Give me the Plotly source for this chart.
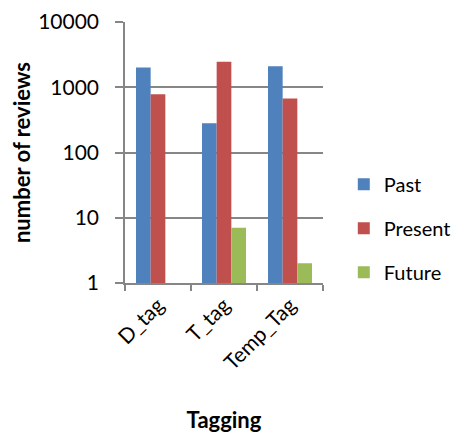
import plotly.graph_objects as go

categories = ["D_tag", "T_tag", "Temp_Tag"]
past = [2000, 280, 2100]
present = [780, 2450, 670]
future = [None, 7, 2]
series_names = ["Past", "Present", "Future"]
colors = ["#4F81BD", "#C0504D", "#9BBB59"]
y_ticks = [1, 10, 100, 1000, 10000]

FONT = "Lato, Open Sans, sans-serif"

fig = go.Figure()
for name, vals, col in zip(series_names, [past, present, future], colors):
    fig.add_trace(go.Bar(
        x=categories, y=vals, name=name, legendgroup=name,
        marker=dict(color=col, line=dict(width=0)),
    ))

fig.update_layout(
    width=445, height=425,
    margin=dict(l=117, r=130, t=14, b=150, autoexpand=False),
    paper_bgcolor="white", plot_bgcolor="white",
    barmode="group", bargap=0.333, bargroupgap=0,
    font=dict(family=FONT, size=21, color="black"),
    legend=dict(x=1.105, y=0.21, xanchor="left", yanchor="middle",
                tracegroupgap=15, font=dict(size=20, family=FONT),
                itemwidth=30, borderwidth=0),
    showlegend=True,
)
fig.update_yaxes(
    type="log", range=[0, 4], tickvals=y_ticks, ticktext=[str(v) for v in y_ticks],
    showgrid=True, gridcolor="#868686", gridwidth=1.5,
    showline=True, linecolor="#868686", linewidth=1.5,
    ticks="outside", ticklen=8, tickcolor="#868686", tickwidth=1.5,
    ticklabelstandoff=12, automargin=False,
    tickfont=dict(size=21, family=FONT),
    title=dict(text="<b>number of reviews</b>", font=dict(size=22, family=FONT), standoff=10),
    zeroline=False,
)
fig.update_xaxes(
    showline=True, linecolor="#868686", linewidth=1.5,
    ticks="outside", ticklen=6, tickcolor="#868686", tickwidth=1.5,
    tickson="boundaries", tickangle=-45, automargin=False,
    tickfont=dict(size=21, family=FONT),
    title=dict(text="<b>Tagging</b>", font=dict(size=22, family=FONT), standoff=40),
    showgrid=False,
)

fig.write_html("out.html")
